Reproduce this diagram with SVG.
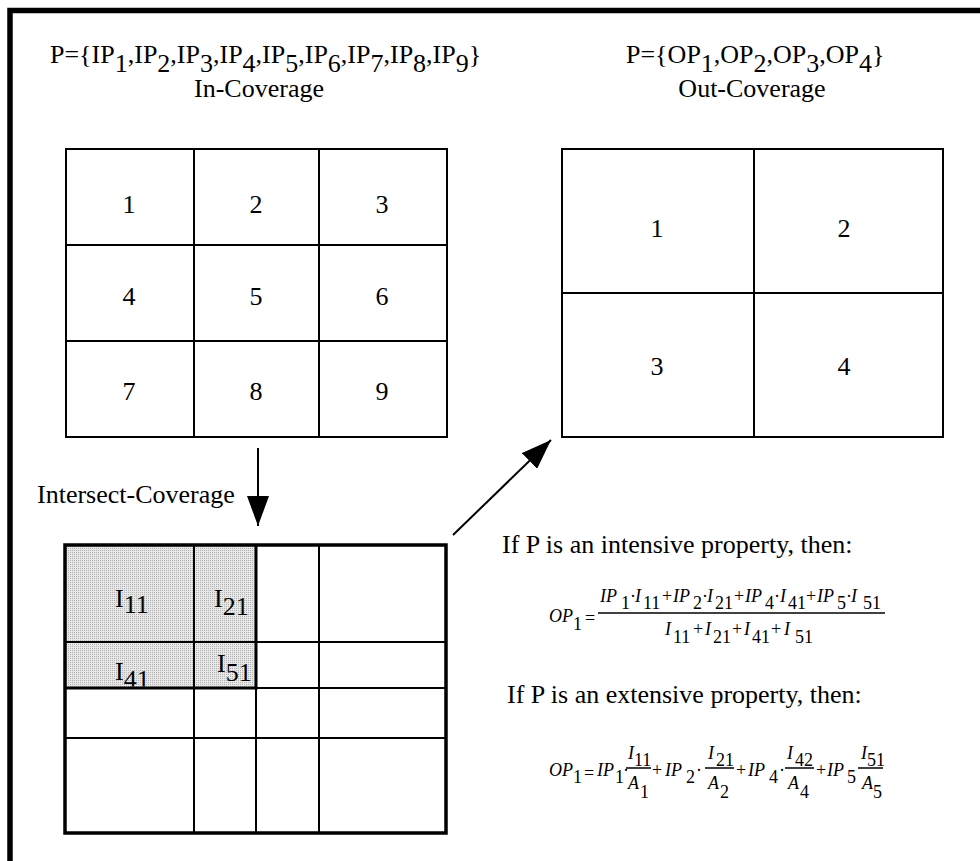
<svg xmlns="http://www.w3.org/2000/svg" width="980" height="861" viewBox="0 0 980 861">
<style>
text{font-family:"Liberation Serif","Times New Roman",serif;fill:#000}
.t{font-size:26px}
.num{font-size:26px;text-anchor:middle}
.m{font-size:18px;font-style:italic}
.r{font-style:normal}
.g{fill:none;stroke:#000;stroke-width:2}
.gb{fill:none;stroke:#000;stroke-width:3.5}
.bar{stroke:#000;stroke-width:1.5}
.conn{stroke:#000;stroke-width:2;fill:none}
</style>
<defs>
<marker id="ah" viewBox="0 0 30 22" refX="30" refY="11" markerWidth="30" markerHeight="22" markerUnits="userSpaceOnUse" orient="auto">
<path d="M0,0 L30,11 L0,22 Z" fill="#000"/>
</marker>
<pattern id="stip" width="2" height="2" patternUnits="userSpaceOnUse">
<rect width="2" height="2" fill="#e8e8e8"/>
<rect width="1" height="1" fill="#b0b0b0"/>
</pattern>
<clipPath id="c41"><rect x="65" y="545" width="191" height="141.5"/></clipPath>
</defs>
<rect width="980" height="861" fill="#fff"/>
<path d="M10,861 V10.5 H980" fill="none" stroke="#000" stroke-width="5.5"/>

<g id="in-coverage">
<text class="t" x="50" y="63">P={IP<tspan dy="9">1</tspan><tspan dy="-9">,IP</tspan><tspan dy="9">2</tspan><tspan dy="-9">,IP</tspan><tspan dy="9">3</tspan><tspan dy="-9">,IP</tspan><tspan dy="9">4</tspan><tspan dy="-9">,IP</tspan><tspan dy="9">5</tspan><tspan dy="-9">,IP</tspan><tspan dy="9">6</tspan><tspan dy="-9">,IP</tspan><tspan dy="9">7</tspan><tspan dy="-9">,IP</tspan><tspan dy="9">8</tspan><tspan dy="-9">,IP</tspan><tspan dy="9">9</tspan><tspan dy="-9">}</tspan></text>
<text class="num" x="259" y="97">In-Coverage</text>
<rect class="g" x="66" y="149" width="381" height="288"/>
<path class="g" d="M194,149 V437 M319,149 V437 M66,245 H447 M66,341 H447"/>
<text class="num" x="129" y="213">1</text>
<text class="num" x="256" y="213">2</text>
<text class="num" x="382" y="213">3</text>
<text class="num" x="129" y="305">4</text>
<text class="num" x="256" y="305">5</text>
<text class="num" x="382" y="305">6</text>
<text class="num" x="129" y="400">7</text>
<text class="num" x="256" y="400">8</text>
<text class="num" x="382" y="400">9</text>
</g>

<g id="out-coverage">
<text class="t" x="626" y="63">P={OP<tspan dy="9">1</tspan><tspan dy="-9">,OP</tspan><tspan dy="9">2</tspan><tspan dy="-9">,OP</tspan><tspan dy="9">3</tspan><tspan dy="-9">,OP</tspan><tspan dy="9">4</tspan><tspan dy="-9">}</tspan></text>
<text class="num" x="752" y="97">Out-Coverage</text>
<rect class="g" x="562" y="149" width="381" height="288"/>
<path class="g" d="M754,149 V437 M562,293 H943"/>
<text class="num" x="657" y="237">1</text>
<text class="num" x="844" y="237">2</text>
<text class="num" x="657" y="375">3</text>
<text class="num" x="844" y="375">4</text>
</g>

<g id="intersect-coverage">
<text class="t" x="37" y="503">Intersect-Coverage</text>
<rect x="65" y="545" width="191" height="143" fill="url(#stip)"/>
<text class="t" x="115" y="607">I<tspan dy="6">11</tspan></text>
<text class="t" x="214" y="607">I<tspan dy="8">21</tspan></text>
<text class="t" x="115" y="680" clip-path="url(#c41)">I<tspan dy="8">41</tspan></text>
<text class="t" x="217" y="672">I<tspan dy="9">51</tspan></text>
<path class="g" d="M194,545 V833 M256,688 V833 M319,545 V833 M65,642 H446 M256,688 H446 M65,738 H446"/>
<path d="M256,545 V689.5 M65,688 H257.5" fill="none" stroke="#000" stroke-width="3"/>
<rect class="gb" x="65" y="545" width="381" height="288"/>
</g>

<g id="intensive-formula">
<text class="t" x="502" y="553">If P is an intensive property, then:</text>
<text class="m" x="549" y="622">OP<tspan class="r" dy="8">1</tspan></text>
<text class="m r" x="585" y="624">=</text>
<line class="bar" x1="598" y1="613" x2="885" y2="613"/>
<text class="m"><tspan x="600" y="602">IP</tspan><tspan class="r" x="621" y="609">1</tspan><tspan class="r" x="630" y="602">·</tspan><tspan x="635" y="602">I</tspan><tspan class="r" x="643" y="609">11</tspan><tspan class="r" x="662" y="602">+</tspan><tspan x="673" y="602">IP</tspan><tspan class="r" x="693" y="609">2</tspan><tspan class="r" x="702" y="602">·</tspan><tspan x="707" y="602">I</tspan><tspan class="r" x="715" y="609">21</tspan><tspan class="r" x="734" y="602">+</tspan><tspan x="745" y="602">IP</tspan><tspan class="r" x="765" y="609">4</tspan><tspan class="r" x="774" y="602">·</tspan><tspan x="780" y="602">I</tspan><tspan class="r" x="788" y="609">41</tspan><tspan class="r" x="806" y="602">+</tspan><tspan x="817" y="602">IP</tspan><tspan class="r" x="837" y="609">5</tspan><tspan class="r" x="846" y="602">·</tspan><tspan x="851" y="602">I</tspan><tspan class="r" x="863" y="609">51</tspan></text>
<text class="m"><tspan x="665" y="635">I</tspan><tspan class="r" x="673" y="643">11</tspan><tspan class="r" x="693" y="635">+</tspan><tspan x="705" y="635">I</tspan><tspan class="r" x="713" y="643">21</tspan><tspan class="r" x="732" y="635">+</tspan><tspan x="744" y="635">I</tspan><tspan class="r" x="752" y="643">41</tspan><tspan class="r" x="771" y="635">+</tspan><tspan x="784" y="635">I</tspan><tspan class="r" x="795" y="643">51</tspan></text>
</g>

<g id="extensive-formula">
<text class="t" x="507" y="703">If P is an extensive property, then:</text>
<text class="m" x="549" y="776">OP<tspan class="r" dy="7">1</tspan></text>
<text class="m r" x="584" y="779">=</text>
<text class="m"><tspan x="597" y="776">IP</tspan><tspan class="r" x="615" y="783">1</tspan><tspan class="r" x="623" y="776">·</tspan><tspan class="r" x="652" y="776">+</tspan><tspan x="665" y="776">IP</tspan><tspan class="r" x="686" y="783">2</tspan><tspan class="r" x="696" y="776">·</tspan><tspan class="r" x="736" y="776">+</tspan><tspan x="748" y="776">IP</tspan><tspan class="r" x="769" y="783">4</tspan><tspan class="r" x="779" y="776">·</tspan><tspan class="r" x="816" y="776">+</tspan><tspan x="827" y="776">IP</tspan><tspan class="r" x="847" y="783">5</tspan></text>
<path class="bar" d="M626,768 H651 M705,768 H734 M785,768 H814 M858,768 H883"/>
<text class="m"><tspan x="628" y="759">I</tspan><tspan class="r" x="634" y="766">11</tspan><tspan x="708" y="759">I</tspan><tspan class="r" x="716" y="766">21</tspan><tspan x="787" y="759">I</tspan><tspan class="r" x="795" y="766">42</tspan><tspan x="861" y="759">I</tspan><tspan class="r" x="867" y="766">51</tspan></text>
<text class="m"><tspan x="628" y="789">A</tspan><tspan class="r" x="640" y="798">1</tspan><tspan x="708" y="789">A</tspan><tspan class="r" x="720" y="798">2</tspan><tspan x="788" y="789">A</tspan><tspan class="r" x="800" y="798">4</tspan><tspan x="862" y="789">A</tspan><tspan class="r" x="873" y="798">5</tspan></text>
</g>

<g id="connectors">
<line class="conn" x1="258" y1="448" x2="258" y2="526" marker-end="url(#ah)"/>
<line class="conn" x1="453" y1="535" x2="551" y2="440" marker-end="url(#ah)"/>
</g>
</svg>
